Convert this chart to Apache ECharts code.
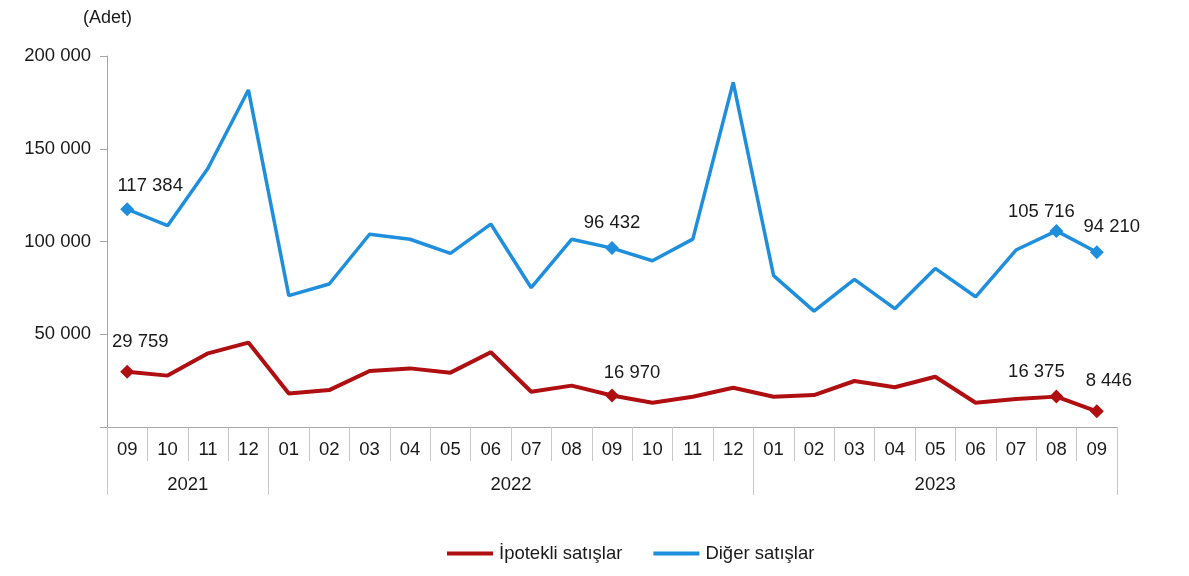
<!DOCTYPE html>
<html>
<head>
<meta charset="utf-8">
<script src="https://cdn.jsdelivr.net/npm/echarts@6/dist/echarts.min.js"></script>
<style>html,body{margin:0;padding:0;background:#fff}#c{width:1189px;height:576px}</style>
</head>
<body>
<div id="c"></div>
<script>
const months = ['09','10','11','12','01','02','03','04','05','06','07','08','09','10','11','12','01','02','03','04','05','06','07','08','09'];
const years = ['2021','2022','2023'];
const yearStarts = [0, 4, 16, 25]; // category boundaries of year groups
const ipotekli = [29759,27700,39700,45500,18100,19900,30200,31600,29300,40300,19000,22300,16970,13100,16300,21200,16300,17200,24800,21400,27100,13100,15100,16375,8446];
const diger = [117384,108500,139500,181700,70800,77100,103900,101200,93600,109400,75100,101200,96432,89600,101300,185800,81600,62500,79600,63800,85500,70200,95400,105716,94210];
const yTicks = [0, 50000, 100000, 150000, 200000];
const labeledIdx = [0, 12, 23, 24];

const ipoOffsets = {0:[13,-30], 12:[20,-23], 23:[-20,-25], 24:[12,-30]};
const digOffsets = {0:[23,-23], 12:[0,-25], 23:[-15,-19], 24:[15,-25]};

const fmt = v => String(v).replace(/\B(?=(\d{3})+(?!\d))/g, ' ');
const FONT = 'Liberation Sans, Arial, sans-serif';
const FS = 18.5;

function build(vals, offsets) {
  return vals.map((v, i) => {
    if (labeledIdx.indexOf(i) >= 0) {
      return {value: v, symbol: 'diamond', symbolSize: 14,
        label: {show: true, position: 'inside', offset: offsets[i]}};
    }
    return {value: v, symbol: 'none'};
  });
}

const chart = echarts.init(document.getElementById('c'));
chart.setOption({
  animation: false,
  textStyle: {fontFamily: FONT},
  title: {text: '(Adet)', left: 78, top: 4, textStyle: {fontFamily: FONT, fontSize: 18, fontWeight: 'normal', color: '#1a1a1a'}},
  grid: {left: 107, right: 72, top: 56, bottom: 149, containLabel: false},
  xAxis: [{
    type: 'category', data: months, boundaryGap: true,
    axisLine: {lineStyle: {color: '#a6a6a6', width: 1}},
    axisTick: {show: true, length: 34, interval: 0, lineStyle: {color: '#c8c8c8'}},
    axisLabel: {interval: 0, margin: 13, fontSize: FS, color: '#1a1a1a', fontFamily: FONT}
  }, {
    type: 'value', min: 0, max: 25, position: 'bottom',
    axisLine: {show: false},
    splitLine: {show: false},
    axisTick: {show: true, length: 68, customValues: yearStarts, lineStyle: {color: '#c8c8c8'}},
    axisLabel: {customValues: [2, 10, 20.5], margin: 48, fontSize: FS, color: '#1a1a1a', fontFamily: FONT,
      formatter: v => v === 2 ? years[0] : (v === 10 ? years[1] : years[2])}
  }],
  yAxis: {
    type: 'value', min: yTicks[0], max: yTicks[yTicks.length - 1], interval: yTicks[1] - yTicks[0],
    splitLine: {show: false},
    axisLine: {show: true, lineStyle: {color: '#a6a6a6'}},
    axisTick: {show: true, length: 7, lineStyle: {color: '#a6a6a6'}},
    axisLabel: {fontSize: FS, color: '#1a1a1a', margin: 16, fontFamily: FONT,
      formatter: v => v === 0 ? '' : fmt(v)}
  },
  legend: {
    top: 539, left: 442, itemGap: 31, itemWidth: 46, itemHeight: 4, icon: 'rect',
    textStyle: {fontSize: FS, color: '#1a1a1a', fontFamily: FONT, padding: [0, 0, 0, 1]},
    data: ['İpotekli satışlar', 'Diğer satışlar']
  },
  series: [{
    name: 'İpotekli satışlar', type: 'line', xAxisIndex: 0,
    data: build(ipotekli, ipoOffsets), showAllSymbol: true,
    lineStyle: {color: '#b00f12', width: 4}, itemStyle: {color: '#b00f12'},
    label: {formatter: p => fmt(p.value), fontSize: FS, color: '#1a1a1a', fontFamily: FONT}
  }, {
    name: 'Diğer satışlar', type: 'line', xAxisIndex: 0,
    data: build(diger, digOffsets), showAllSymbol: true,
    lineStyle: {color: '#1f8fdd', width: 3.5}, itemStyle: {color: '#1f8fdd'},
    label: {formatter: p => fmt(p.value), fontSize: FS, color: '#1a1a1a', fontFamily: FONT}
  }]
});
</script>
</body>
</html>
